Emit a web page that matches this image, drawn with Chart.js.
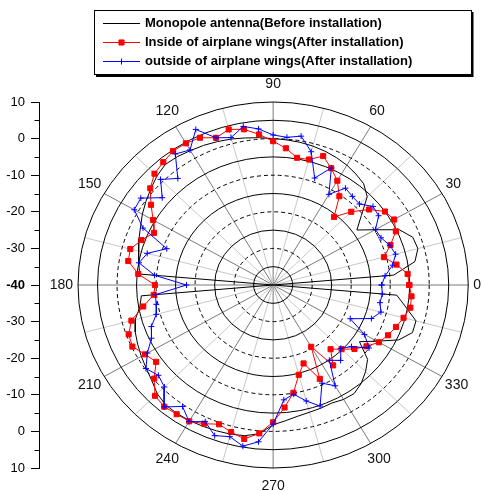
<!DOCTYPE html>
<html>
<head>
<meta charset="utf-8">
<script src="https://cdn.jsdelivr.net/npm/chart.js@4.4.1/dist/chart.umd.min.js"></script>
<style>
  html, body { margin: 0; padding: 0; background: #fff; }
  #wrap { width: 484px; height: 491px; }
</style>
</head>
<body>
<div id="wrap"><canvas id="myChart" width="484" height="491"></canvas></div>
<script>
// angle of every sample (degrees)
const angles = [
  0, 5, 10, 15, 20, 25, 30, 35, 40, 45, 50, 55, 60, 65, 70, 75, 80, 85,
  90, 95, 100, 105, 110, 115, 120, 125, 130, 135, 140, 145, 150, 155, 160, 165, 170, 175,
  180, 185, 190, 195, 200, 205, 210, 215, 220, 225, 230, 235, 240, 245, 250, 255, 260, 265,
  270, 275, 280, 285, 290, 295, 300, 305, 310, 315, 320, 325, 330, 335, 340, 345, 350, 355,
];

// gain (dB)
const monopole = [
  -40, -9.0, -3.1, -1.6, -1.9, -4.3, -9.8, -13.8, -10.5, -5.9, -3.9, -3.0, -2.2, -1.6, -1.1, -0.7, -0.4, -0.2,
  0.0, 0.4, 0.8, 1.3, 1.7, 2.1, 2.4, 2.8, 3.0, 2.1, 0.9, -0.2, -1.3, -2.5, -3.4, -4.3, -5.0, -5.7,
  -40, -6.1, -5.3, -3.4, -2.4, -1.7, -1.0, -0.3, 0.6, 2.0, 2.8, 2.9, 2.8, 2.6, 2.4, 2.2, 1.8, 0.8,
  -1.8, -2.8, -3.6, -4.0, -4.2, -4.4, -3.9, -3.8, -4.9, -6.5, -8.4, -13.0, -9.3, -4.5, -2.0, -2.1, -5.5, -8.2,
];
const insideWings = [
  -5.1, -5.4, -7.9, -10.6, -8.0, -5.3, -4.2, -5.0, -7.9, -11.7, -15.7, -10.4, -7.1, -4.8, -2.5, -4.5, -4.7, -2.5,
  -0.7, 1.3, 3.2, 4.0, 2.8, 4.4, 4.7, 4.7, 3.8, 3.0, 1.1, -1.8, -4.5, -6.3, -4.1, -2.1, -2.3, -5.3,
  -9.7, -9.3, -6.2, -2.4, -0.6, -0.2, -2.1, -3.4, -0.2, 2.8, 3.4, 3.1, 3.0, 1.8, 0.5, 1.6, 2.7, 0.7,
  -2.5, -6.4, -10.1, -14.6, -17.2, -11.7, -20.5, -13.2, -17.1, -15.2, -12.8, -10.8, -8.7, -7.5, -6.5, -5.4, -4.3, -4.4,
];
const outsideWings = [
  -12.2, -11.2, -8.9, -7.5, -8.2, -9.5, -9.7, -7.0, -6.6, -8.7, -8.4, -7.7, -11.4, -4.7, -8.9, -2.3, 1.3, 0.5,
  1.0, 2.8, 4.0, 1.7, 2.8, 6.9, 2.6, 3.7, -2.0, 0.8, -2.9, 1.4, 1.1, -3.2, -11.0, -6.6, -5.1, -9.5,
  -17.8, -9.7, -9.6, -9.0, -6.8, -5.6, -2.8, -0.2, -1.6, -0.6, 3.5, 0.5, 3.1, 1.2, 3.8, 2.9, 4.7, 3.0,
  -2.0, -8.5, -9.7, -7.2, -4.8, -10.4, -8.2, -14.9, -13.1, -15.5, -13.8, -10.0, -13.0, -18.2, -13.2, -11.4, -12.2, -11.9,
];

const seriesLabels = [
  "Monopole antenna(Before installation)",
  "Inside of airplane wings(After installation)",
  "outside of airplane wings(After installation)",
];

// radial grid
const rMin = -40;
const ringValues = [-35, -30, -25, -20, -15, -10, -5, 0, 5, 10];
const spokeAngles = [0, 15, 30, 45, 60, 75, 90, 105, 120, 135, 150, 165, 180, 195, 210, 225, 240, 255, 270, 285, 300, 315, 330, 345];
const angleLabels = [0, 30, 60, 90, 120, 150, 180, 210, 240, 270, 300, 330];
const minorTicks = [-45, -35, -25, -15, -5, 5, 15, 25, 35, 45];

const FONT = "'Liberation Sans', Arial, sans-serif";
Chart.defaults.font.family = FONT;

// polar (angle, dB) -> cartesian, closed loop
const toXY = (vals) => {
  const pts = angles.map((a, i) => {
    const r = Math.max(vals[i] - rMin, 0);
    const t = (a * Math.PI) / 180;
    return { x: r * Math.cos(t), y: r * Math.sin(t) };
  });
  pts.push(pts[0]);
  return pts;
};

const polarGrid = {
  id: "polarGrid",
  beforeDatasetsDraw(chart) {
    const { ctx } = chart;
    const xs = chart.scales.x;
    const ys = chart.scales.y;
    const cx = xs.getPixelForValue(0);
    const cy = ys.getPixelForValue(0);
    const rx = (v) => xs.getPixelForValue(v - rMin) - cx;
    const ry = (v) => cy - ys.getPixelForValue(v - rMin);
    const outer = ringValues[ringValues.length - 1];

    ctx.save();
    ctx.lineWidth = 1;
    spokeAngles.forEach((a) => {
      const t = (a * Math.PI) / 180;
      ctx.strokeStyle = a % 30 === 0 ? "#7a7a7a" : "#c8c8c8";
      ctx.beginPath();
      ctx.moveTo(cx, cy);
      ctx.lineTo(cx + rx(outer) * Math.cos(t), cy - ry(outer) * Math.sin(t));
      ctx.stroke();
    });

    ctx.strokeStyle = "#000";
    ringValues.forEach((v) => {
      ctx.setLineDash(v % 10 === 0 && v !== outer ? [4, 3] : []);
      ctx.beginPath();
      ctx.ellipse(cx, cy, rx(v), ry(v), 0, 0, Math.PI * 2);
      ctx.stroke();
    });
    ctx.setLineDash([]);

    ctx.font = "14px " + FONT;
    ctx.fillStyle = "#111";
    ctx.textAlign = "center";
    ctx.textBaseline = "middle";
    angleLabels.forEach((a) => {
      const t = (a * Math.PI) / 180;
      const c = Math.cos(t);
      const s = Math.sin(t);
      const txt = String(a);
      const w = ctx.measureText(txt).width;
      ctx.fillText(txt, cx + rx(outer) * c + c * (5 + w / 2), cy - ry(outer) * s - s * 18);
    });
    ctx.restore();
  },
  afterDraw(chart) {
    // short minor ticks on the left axis
    const { ctx } = chart;
    const ys = chart.scales.y;
    ctx.save();
    ctx.strokeStyle = "#000";
    ctx.lineWidth = 1;
    minorTicks.forEach((v) => {
      const py = Math.round(ys.getPixelForValue(v)) + 0.5;
      ctx.beginPath();
      ctx.moveTo(ys.right - 4.5, py);
      ctx.lineTo(ys.right, py);
      ctx.stroke();
    });
    ctx.restore();
  },
};

const boxLegend = {
  id: "boxLegend",
  afterDraw(chart) {
    const { ctx } = chart;
    ctx.save();
    ctx.strokeStyle = "#000";
    ctx.lineWidth = 1;
    ctx.strokeRect(94.5, 10.5, 377, 64);
    ctx.lineWidth = 2;
    ctx.beginPath();
    ctx.moveTo(472.5, 12);
    ctx.lineTo(472.5, 76);
    ctx.lineTo(96, 76);
    ctx.stroke();

    chart.data.datasets.forEach((ds, i) => {
      const yy = Math.round(22.5 + i * 19.3) + 0.5;
      ctx.strokeStyle = ds.borderColor;
      ctx.lineWidth = 1;
      ctx.beginPath();
      ctx.moveTo(103, yy);
      ctx.lineTo(140, yy);
      ctx.stroke();
      if (ds.pointRadius > 0) {
        ctx.fillStyle = ds.backgroundColor;
        ctx.strokeStyle = ds.borderColor;
        Chart.helpers.drawPoint(ctx, { pointStyle: ds.pointStyle, radius: ds.pointRadius, borderWidth: 1, rotation: 0 }, 121.5, yy);
      }
      ctx.fillStyle = "#000";
      ctx.font = "bold 13px " + FONT;
      ctx.textAlign = "left";
      ctx.textBaseline = "middle";
      ctx.fillText(ds.label, 145, yy);
    });
    ctx.restore();
  },
};

new Chart(document.getElementById("myChart"), {
  type: "scatter",
  data: {
    datasets: [
      {
        label: seriesLabels[0],
        data: toXY(monopole),
        showLine: true,
        borderColor: "#000000",
        backgroundColor: "#000000",
        borderWidth: 1,
        pointRadius: 0,
        order: 3,
      },
      {
        label: seriesLabels[1],
        data: toXY(insideWings),
        showLine: true,
        borderColor: "#ff0000",
        backgroundColor: "#ff0000",
        borderWidth: 1,
        pointStyle: "rect",
        pointRadius: 3.6,
        pointBorderWidth: 1,
        order: 2,
      },
      {
        label: seriesLabels[2],
        data: toXY(outsideWings),
        showLine: true,
        borderColor: "#0000ff",
        backgroundColor: "#0000ff",
        borderWidth: 1,
        pointStyle: "cross",
        pointRadius: 3,
        pointBorderWidth: 1,
        order: 1,
      },
    ],
  },
  options: {
    responsive: false,
    animation: false,
    events: [],
    layout: { padding: { top: 102, right: 6, bottom: 23, left: 0 } },
    plugins: {
      legend: { display: false },
      tooltip: { enabled: false },
    },
    scales: {
      x: { type: "linear", min: -60, max: 52.5, display: false },
      y: {
        type: "linear",
        position: "left",
        min: -50,
        max: 50,
        afterFit: (scale) => {
          scale.width = 39;
        },
        grid: { drawOnChartArea: false, drawTicks: true, tickLength: 8, color: "#000", tickColor: "#000" },
        border: { display: true, color: "#000", width: 1 },
        ticks: {
          stepSize: 10,
          padding: 6,
          color: "#000",
          font: (c) => ({ size: 13, weight: c.tick && c.tick.value === 0 ? "bold" : "normal" }),
          callback: (v) => Math.abs(v) - 40,
        },
      },
    },
  },
  plugins: [polarGrid, boxLegend],
});
</script>
</body>
</html>
